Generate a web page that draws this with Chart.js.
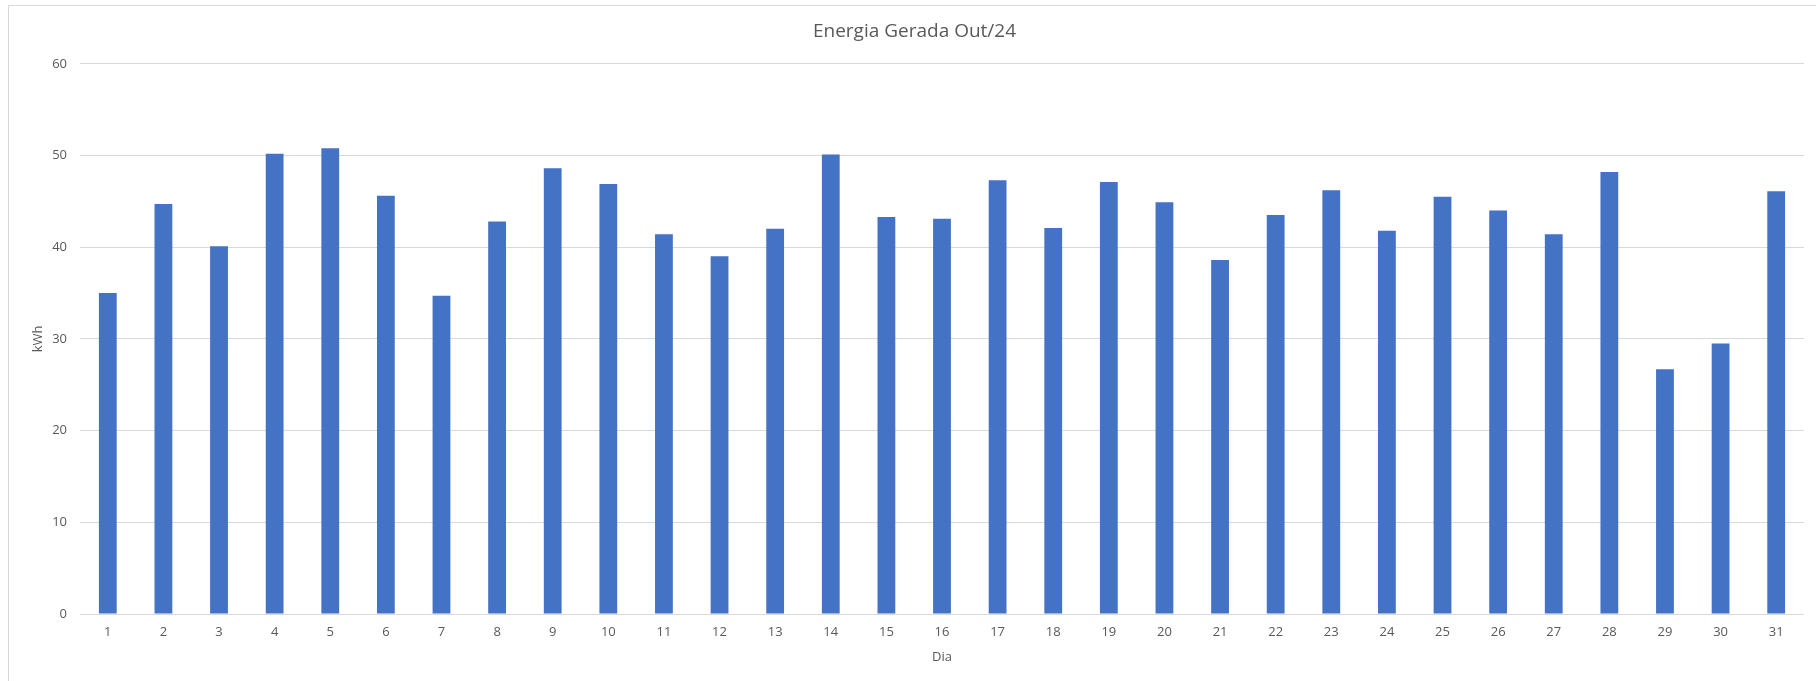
<!DOCTYPE html>
<html>
<head>
<meta charset="utf-8">
<script src="https://cdn.jsdelivr.net/npm/chart.js@4.4.1/dist/chart.umd.min.js"></script>
<style>
  html, body { margin: 0; padding: 0; background: #ffffff; overflow: hidden; }
  #frame { position: absolute; left: 8px; top: 5px; width: 1830px; height: 700px;
           border: 1px solid #d9d9d9; box-sizing: border-box; }
  #wrap { position: absolute; left: 0; top: 0; width: 1816px; height: 681px; }
</style>
</head>
<body>
<div id="frame"></div>
<div id="wrap"><canvas id="c" width="1816" height="681"></canvas></div>
<script>
const days = ['1','2','3','4','5','6','7','8','9','10','11','12','13','14','15','16','17','18','19','20','21','22','23','24','25','26','27','28','29','30','31'];
const energyKWh = [35.0, 44.7, 40.1, 50.2, 50.8, 45.6, 34.7, 42.8, 48.6, 46.9, 41.4, 39.0, 42.0, 50.1, 43.3, 43.1, 47.3, 42.1, 47.1, 44.9, 38.6, 43.5, 46.2, 41.8, 45.5, 44.0, 41.4, 48.2, 26.7, 29.5, 46.1];
const titleText = 'Energia Gerada Out/24';
const yTitle = 'kWh';
const xTitle = 'Dia';

const textColor = '#595959';
const gridColor = '#d9d9d9';
const fontFamily = "'Open Sans', 'Noto Sans', sans-serif";

new Chart(document.getElementById('c'), {
  type: 'bar',
  data: {
    labels: days,
    datasets: [{
      label: 'Energia',
      data: energyKWh,
      backgroundColor: '#4472C4',
      borderWidth: 0,
      barPercentage: 0.32,
      categoryPercentage: 1.0
    }]
  },
  options: {
    responsive: false,
    animation: false,
    devicePixelRatio: 1,
    layout: { padding: { left: 25, right: 12, top: 0, bottom: 0 } },
    plugins: {
      legend: { display: false },
      tooltip: { enabled: false },
      title: {
        display: true,
        text: titleText,
        color: textColor,
        font: { family: fontFamily, size: 19, weight: 'normal', lineHeight: 1.2 },
        padding: { top: 20, bottom: 21 }
      }
    },
    scales: {
      x: {
        grid: { display: false, drawTicks: false },
        border: { display: false },
        ticks: { color: textColor, font: { family: fontFamily, size: 13 }, padding: 10, maxRotation: 0, autoSkip: false },
        title: { display: true, text: xTitle, color: textColor, font: { family: fontFamily, size: 13 }, padding: { top: 0, bottom: 16 } },
        afterFit: (s) => { s.height = 67; }
      },
      y: {
        min: 0,
        max: 60,
        grid: { color: gridColor, lineWidth: 1, drawTicks: false },
        border: { display: false },
        ticks: { stepSize: 10, color: textColor, font: { family: fontFamily, size: 13 }, padding: 13 },
        title: { display: true, text: yTitle, color: textColor, font: { family: fontFamily, size: 13 }, padding: { top: 5, bottom: 0 } },
        afterFit: (s) => { s.width = 55; }
      }
    }
  }
});
</script>
</body>
</html>
